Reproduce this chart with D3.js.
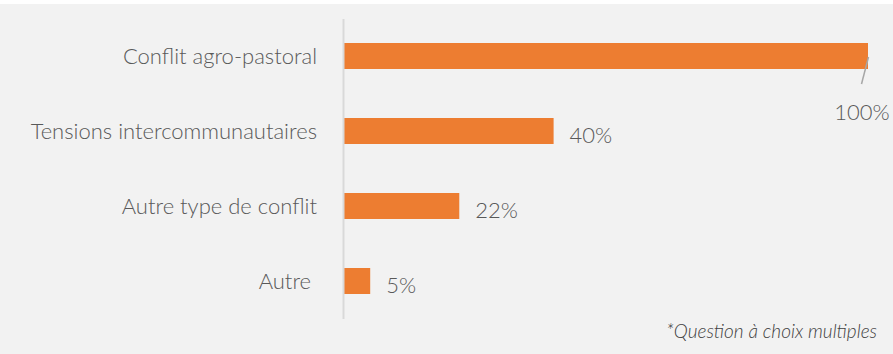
<!DOCTYPE html>
<html>
<head>
<meta charset="utf-8">
<script src="https://cdn.jsdelivr.net/npm/d3@7"></script>
<style>
  html, body { margin: 0; padding: 0; background: #ffffff; }
  svg { display: block; }
  text { font-family: "Lato", "Open Sans", sans-serif; font-weight: 300; }
</style>
</head>
<body>
<svg id="chart" width="893" height="354"></svg>
<script>
// Types de conflits cités (question à choix multiples)
const categories = ["Conflit agro-pastoral", "Tensions intercommunautaires", "Autre type de conflit", "Autre "];
const values = [100, 40, 22, 5];
const valueLabels = ["100%", "40%", "22%", "5%"];
const footnote = "*Question à choix multiples";

const W = 893, H = 354;
const svg = d3.select("#chart");

// panel background
svg.append("rect").attr("x", 0).attr("y", 0).attr("width", W).attr("height", H).attr("fill", "#ffffff");
svg.append("rect").attr("x", 0).attr("y", 4).attr("width", W).attr("height", H - 4).attr("fill", "#f2f2f2");

const x = d3.scaleLinear().domain([0, 100]).range([344, 868]);
const y = d3.scaleBand().domain(categories).range([18.5, 318.5])
  .paddingInner(49 / 75).paddingOuter(49 / 150);

// bars
svg.append("g").selectAll("rect")
  .data(categories)
  .join("rect")
  .attr("x", x(0))
  .attr("y", d => y(d))
  .attr("width", (d, i) => x(values[i]) - x(0))
  .attr("height", y.bandwidth())
  .attr("fill", "#ed7d31");

// category axis
const axis = svg.append("g")
  .attr("transform", `translate(${x(0) - 1},0)`)
  .call(d3.axisLeft(y).tickSize(0).tickPadding(26));
axis.select(".domain").attr("stroke", "#d9d9d9").attr("stroke-width", 2);
axis.selectAll("text")
  .attr("dy", null)
  .attr("y", 8)
  .style("white-space", "pre")
  .style("font-family", '"Lato", sans-serif')
  .style("font-weight", 300)
  .style("font-size", "22px")
  .attr("fill", "#595959");

// value labels
const labels = svg.append("g");
categories.forEach((c, i) => {
  const cy = y(c) + y.bandwidth() / 2;
  if (values[i] >= 100) {
    // label of the full-width bar sits below its end, tied by a leader line
    labels.append("line")
      .attr("x1", x(values[i]) + 0.5).attr("y1", cy + 1)
      .attr("x2", x(values[i]) - 6.5).attr("y2", cy + 28)
      .attr("stroke", "#a6a6a6").attr("stroke-width", 1.5);
    labels.append("text")
      .attr("x", x(values[i]) - 6).attr("y", cy + 64)
      .attr("text-anchor", "middle")
      .style("font-size", "22px")
      .attr("fill", "#595959")
      .text(valueLabels[i]);
  } else {
    labels.append("text")
      .attr("x", x(values[i]) + 16).attr("y", cy + 11.5)
      .style("font-size", "22px")
      .attr("fill", "#595959")
      .text(valueLabels[i]);
  }
});

// footnote
svg.append("text")
  .attr("x", 877).attr("y", 337.5)
  .attr("text-anchor", "end")
  .style("font-style", "italic")
  .style("font-size", "19px")
  .attr("fill", "#404040")
  .text(footnote);
</script>
</body>
</html>
